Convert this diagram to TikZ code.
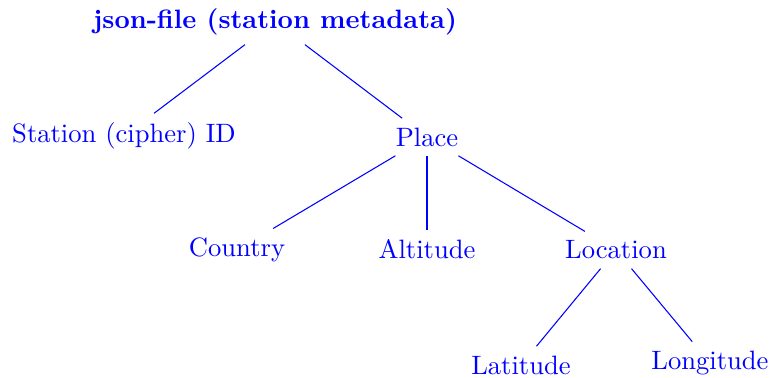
\documentclass[tikz,border=0pt]{standalone}
\begin{document}
\begin{tikzpicture}[x=0.3761pt,y=-0.3761pt,
  every node/.style={text=blue},
  edge/.style={draw=blue, line width=0.4pt}]
\useasboundingbox (0,0) rectangle (771,378);
\node[font=\bfseries] (root) at (275,22) {json-file (station metadata)};
\node (station) at (124,136) {Station (cipher) ID};
\node (place) at (427,137) {Place};
\node (country) at (237,250) {Country};
\node (altitude) at (427,249) {Altitude};
\node (location) at (616,250) {Location};
\node (latitude) at (521,365) {Latitude};
\node (longitude) at (710,363) {Longitude};
\draw[edge] (root) -- (station);
\draw[edge] (root) -- (place);
\draw[edge] (place) -- (country);
\draw[edge] (place) -- (altitude);
\draw[edge] (place) -- (location);
\draw[edge] (location) -- (latitude);
\draw[edge] (location) -- (longitude);
\end{tikzpicture}
\end{document}
